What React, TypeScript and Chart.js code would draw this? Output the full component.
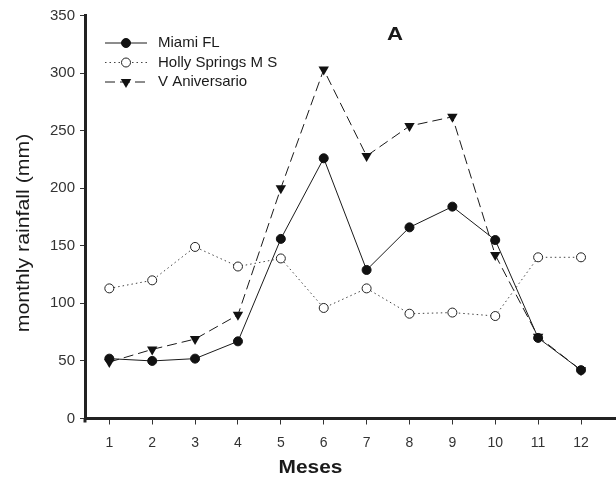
import React, { useEffect, useRef } from "react";
import { Chart, registerables } from "chart.js";

Chart.register(...registerables);

const months = [1, 2, 3, 4, 5, 6, 7, 8, 9, 10, 11, 12];
const miamiFL = [52, 50, 52, 67, 156, 226, 129, 166, 184, 155, 70, 42];
const hollySprings = [113, 120, 149, 132, 139, 96, 113, 91, 92, 89, 140, 140];
const vAniversario = [49, 60, 69, 90, 200, 303, 228, 254, 262, 142, 71, 42];
const seriesNames = ["Miami FL", "Holly Springs M S", "V Aniversario"];
const yTicks = [0, 50, 100, 150, 200, 250, 300, 350];

const FONT = "'Liberation Sans', Arial, Helvetica, sans-serif";

function stretchedText(ctx: any, text: string, x: number, y: number, font: string, sx: number, rot = 0) {
  ctx.save();
  ctx.translate(x, y);
  if (rot) ctx.rotate(rot);
  ctx.scale(sx, 1);
  ctx.font = font;
  ctx.textAlign = "center";
  ctx.textBaseline = "middle";
  ctx.fillText(text, 0, 0);
  ctx.restore();
}

const overlayPlugin = {
  id: "overlay",
  afterDraw(chart: any) {
    const ctx = chart.ctx;
    const area = chart.chartArea;
    ctx.save();
    // small extension of the y axis below the x axis
    ctx.strokeStyle = "#222";
    ctx.lineWidth = 3;
    ctx.beginPath();
    ctx.moveTo(area.left, area.bottom);
    ctx.lineTo(area.left, area.bottom + 4);
    ctx.stroke();

    ctx.fillStyle = "#1a1a1a";
    stretchedText(ctx, "A", 395, 34.5, `bold 19px ${FONT}`, 1.17);
    stretchedText(ctx, "Meses", 310.5, 468, `bold 18px ${FONT}`, 1.16);
    stretchedText(ctx, "monthly rainfall (mm)", 24, 233, `19px ${FONT}`, 1.12, -Math.PI / 2);
    // Legend
    const rows = [43, 62.5, 82];
    chart.data.datasets.forEach((ds: any, i: number) => {
      const y = rows[i];
      ctx.strokeStyle = ds.borderColor;
      ctx.lineWidth = ds.borderWidth;
      ctx.setLineDash(ds.borderDash || []);
      ctx.beginPath();
      ctx.moveTo(105, y);
      ctx.lineTo(147, y);
      ctx.stroke();
      ctx.setLineDash([]);
      ctx.fillStyle = ds.pointBackgroundColor;
      ctx.strokeStyle = ds.pointBorderColor;
      ctx.lineWidth = 1;
      const cx = 126;
      if (ds.pointStyle === "triangle") {
        const r = ds.pointRadius;
        ctx.beginPath();
        ctx.moveTo(cx - r * 0.87, y - r * 0.5);
        ctx.lineTo(cx + r * 0.87, y - r * 0.5);
        ctx.lineTo(cx, y + r);
        ctx.closePath();
        ctx.fill();
      } else {
        ctx.beginPath();
        ctx.arc(cx, y, ds.pointRadius, 0, Math.PI * 2);
        ctx.fill();
        ctx.stroke();
      }
      ctx.fillStyle = "#1a1a1a";
      ctx.font = `15px ${FONT}`;
      ctx.textAlign = "left";
      ctx.textBaseline = "middle";
      ctx.fillText(seriesNames[i], 158, y);
    });
    ctx.restore();
  },
};

export default function App() {
  const ref = useRef<HTMLCanvasElement | null>(null);
  useEffect(() => {
    if (!ref.current) return;
    const chart = new Chart(ref.current, {
      type: "line",
      data: {
        datasets: [
          {
            label: seriesNames[0],
            data: months.map((m, i) => ({ x: m, y: miamiFL[i] })),
            borderColor: "#1a1a1a",
            borderWidth: 1,
            pointStyle: "circle",
            pointRadius: 4.5,
            pointBackgroundColor: "#111",
            pointBorderColor: "#111",
            pointBorderWidth: 1,
          },
          {
            label: seriesNames[1],
            data: months.map((m, i) => ({ x: m, y: hollySprings[i] })),
            borderColor: "#444",
            borderWidth: 1,
            borderDash: [1.5, 3],
            pointStyle: "circle",
            pointRadius: 4.5,
            pointBackgroundColor: "#fff",
            pointBorderColor: "#222",
            pointBorderWidth: 1,
          },
          {
            label: seriesNames[2],
            data: months.map((m, i) => ({ x: m, y: vAniversario[i] })),
            borderColor: "#1a1a1a",
            borderWidth: 1,
            borderDash: [10, 5],
            pointStyle: "triangle",
            rotation: 180,
            pointRadius: 6,
            pointBackgroundColor: "#111",
            pointBorderColor: "#111",
            pointBorderWidth: 0,
          },
        ],
      },
      options: {
        animation: false,
        responsive: false,
        maintainAspectRatio: false,
        layout: { autoPadding: false, padding: { top: 15.5, right: 0, left: 0, bottom: 0 } },
        plugins: { legend: { display: false }, tooltip: { enabled: false }, title: { display: false } },
        scales: {
          x: {
            type: "linear",
            min: 0.433,
            max: 12.816,
            afterBuildTicks: (s: any) => {
              s.ticks = months.map((v) => ({ value: v }));
            },
            afterFit: (s: any) => {
              s.height = 62.5;
              s.paddingLeft = 0;
              s.paddingRight = 0;
            },
            grid: { drawOnChartArea: false, drawTicks: true, tickLength: 6, color: "#333", tickWidth: 1 },
            border: { display: true, width: 3, color: "#222" },
            ticks: {
              font: { family: FONT, size: 14 },
              color: "#333",
              padding: 10,
              maxRotation: 0,
              autoSkip: false,
              callback: (v: any) => String(v),
            },
          },
          y: {
            type: "linear",
            min: 0,
            max: 350,
            afterBuildTicks: (s: any) => {
              s.ticks = yTicks.map((v) => ({ value: v }));
            },
            afterFit: (s: any) => {
              s.width = 85;
              s.paddingTop = 0;
              s.paddingBottom = 0;
            },
            grid: { drawOnChartArea: false, drawTicks: true, tickLength: 5, color: "#333", tickWidth: 1 },
            border: { display: true, width: 3, color: "#222" },
            ticks: {
              font: { family: FONT, size: 15 },
              color: "#333",
              padding: 5,
              callback: (v: any) => String(v),
            },
          },
        },
      },
      plugins: [overlayPlugin],
    } as any);
    return () => chart.destroy();
  }, []);
  return (
    <div style={{ position: "fixed", left: 0, top: 0, width: 616, height: 481, background: "#fff" }}>
      <canvas ref={ref} width={616} height={481} style={{ display: "block" }} />
    </div>
  );
}
